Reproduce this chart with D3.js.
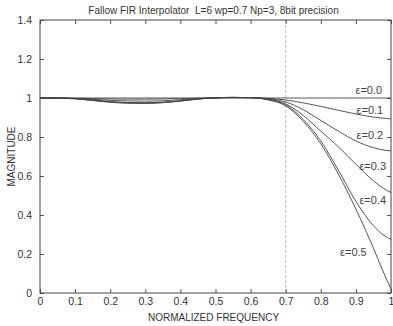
<!DOCTYPE html>
<html>
<head>
<meta charset="utf-8">
<script src="https://cdn.jsdelivr.net/npm/d3@7"></script>
<style>
  html, body { margin: 0; padding: 0; background: #fff; }
  svg { display: block; font-family: "Liberation Sans", Arial, sans-serif; }
  .tick-label { fill: #333; font-size: 10.5px; }
  .axis-title { fill: #333; font-size: 10px; white-space: pre; }
  .curve { fill: none; stroke: #444; stroke-width: 0.9; }
  .eps-label { fill: #444; font-size: 11px; }
</style>
</head>
<body>
<div id="chart"></div>
<script>
// Frequency grid (normalized) shared by all curves
const freqs = [0, 0.05, 0.1, 0.15, 0.2, 0.25, 0.3, 0.35, 0.4, 0.45, 0.5, 0.55, 0.6, 0.65,
  0.7, 0.75, 0.8, 0.85, 0.9, 0.95, 0.98, 1.0];

// Magnitude per fractional delay epsilon
const eps00 = [1, 1, 1, 1, 1, 1, 1, 1, 1, 1, 1, 1, 1, 1, 1, 1, 1, 1, 1, 1, 1, 1];
const eps01 = [1, 1, 0.999, 0.997, 0.995, 0.994, 0.994, 0.995, 0.997, 0.999, 1.001, 1.002, 1.001, 0.998,
  0.99, 0.975, 0.957, 0.937, 0.918, 0.902, 0.896, 0.893];
const eps02 = [1, 1, 0.998, 0.993, 0.988, 0.985, 0.984, 0.986, 0.991, 0.997, 1.001, 1.003, 1.002, 0.996,
  0.98, 0.94, 0.885, 0.83, 0.78, 0.745, 0.733, 0.728];
const eps03 = [1, 0.999, 0.997, 0.99, 0.982, 0.977, 0.976, 0.979, 0.986, 0.995, 1.001, 1.003, 1.002, 0.994,
  0.97, 0.91, 0.83, 0.75, 0.66, 0.575, 0.535, 0.515];
const eps04 = [1, 0.999, 0.996, 0.988, 0.98, 0.975, 0.974, 0.977, 0.985, 0.995, 1.001, 1.003, 1.002, 0.992,
  0.965, 0.89, 0.78, 0.63, 0.47, 0.345, 0.295, 0.275];
const eps05 = [1, 0.999, 0.996, 0.987, 0.978, 0.973, 0.972, 0.976, 0.984, 0.994, 1.001, 1.003, 1.002, 0.99,
  0.96, 0.88, 0.765, 0.61, 0.43, 0.23, 0.1, 0.02];

const series = [eps00, eps01, eps02, eps03, eps04, eps05];
const seriesNames = ["\u03b5=0.0", "\u03b5=0.1", "\u03b5=0.2", "\u03b5=0.3", "\u03b5=0.4", "\u03b5=0.5"];
// Label anchor (left edge, vertical centre) in data units
const labelFreq = [0.899, 0.902, 0.902, 0.91, 0.91, 0.855];
const labelMag = [1.04, 0.94, 0.81, 0.65, 0.475, 0.21];

const xTicks = [0, 0.1, 0.2, 0.3, 0.4, 0.5, 0.6, 0.7, 0.8, 0.9, 1];
const yTicks = [0, 0.2, 0.4, 0.6, 0.8, 1, 1.2, 1.4];
const passbandEdge = 0.7;

const title = "Fallow FIR Interpolator  L=6 wp=0.7 Np=3, 8bit precision";
const xTitle = "NORMALIZED FREQUENCY";
const yTitle = "MAGNITUDE";

const width = 393, height = 326;
const margin = { top: 20, right: 2, bottom: 33, left: 40 };
const innerW = width - margin.left - margin.right;
const innerH = height - margin.top - margin.bottom;

const svg = d3.select("#chart").append("svg").attr("width", width).attr("height", height);
const plot = svg.append("g").attr("transform", `translate(${margin.left},${margin.top})`);

const x = d3.scaleLinear().domain([0, 1]).range([0, innerW]);
const y = d3.scaleLinear().domain([0, 1.4]).range([innerH, 0]);

// Passband edge marker
plot.append("line")
  .attr("x1", x(passbandEdge)).attr("x2", x(passbandEdge))
  .attr("y1", 0).attr("y2", innerH)
  .attr("stroke", "#bbb").attr("stroke-width", 1).attr("stroke-dasharray", "3,2");

// Ticks inside on all four sides (MATLAB style)
const tickLen = 4;
const styleAxis = (g) => {
  g.select(".domain").remove();
  g.selectAll(".tick line").attr("stroke", "#555");
  g.selectAll(".tick text").attr("class", "tick-label").attr("font-family", null).attr("font-size", null);
};
plot.append("g").attr("transform", `translate(0,${innerH})`)
  .call(d3.axisBottom(x).tickValues(xTicks).tickSize(-tickLen).tickPadding(5).tickFormat(d3.format("~g")))
  .call(styleAxis);
plot.append("g")
  .call(d3.axisTop(x).tickValues(xTicks).tickSize(-tickLen).tickFormat(""))
  .call(styleAxis);
plot.append("g")
  .call(d3.axisLeft(y).tickValues(yTicks).tickSize(-tickLen).tickPadding(8).tickFormat(d3.format("~g")))
  .call(styleAxis);
plot.append("g").attr("transform", `translate(${innerW},0)`)
  .call(d3.axisRight(y).tickValues(yTicks).tickSize(-tickLen).tickFormat(""))
  .call(styleAxis);

// Frame
plot.append("rect").attr("width", innerW).attr("height", innerH)
  .attr("fill", "none").attr("stroke", "#444").attr("stroke-width", 1);

// Curves
const line = d3.line().x((d, i) => x(freqs[i])).y((d) => y(d)).curve(d3.curveMonotoneX);
plot.append("g").selectAll("path").data(series).join("path")
  .attr("class", "curve").attr("d", line);

// Epsilon labels
plot.append("g").selectAll("text").data(seriesNames).join("text")
  .attr("class", "eps-label")
  .attr("x", (d, i) => x(labelFreq[i]))
  .attr("y", (d, i) => y(labelMag[i]))
  .attr("dy", "0.35em")
  .text((d) => d);

// Titles
svg.append("text").attr("class", "axis-title").attr("text-anchor", "middle")
  .attr("x", margin.left + innerW / 2 - 2).attr("y", 14).text(title);
svg.append("text").attr("class", "axis-title").attr("text-anchor", "middle")
  .attr("x", margin.left + innerW / 2 - 2).attr("y", 321).text(xTitle);
svg.append("text").attr("class", "axis-title").attr("text-anchor", "middle")
  .attr("transform", `translate(15,${margin.top + innerH / 2}) rotate(-90)`).text(yTitle);
</script>
</body>
</html>
